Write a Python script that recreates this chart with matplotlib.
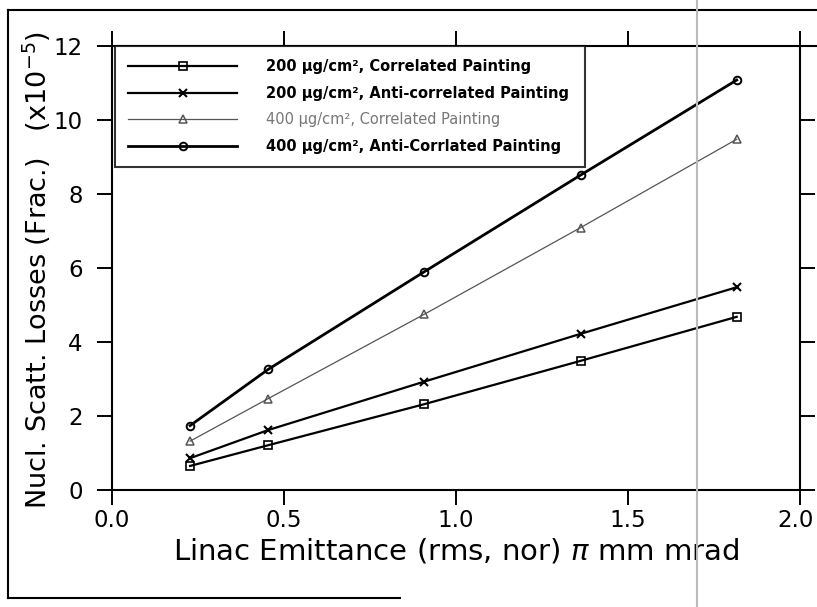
import matplotlib
matplotlib.use("Agg")
import matplotlib.pyplot as plt
import matplotlib.transforms as mtransforms
from matplotlib.lines import Line2D

# ---- data ----
emittance = [0.227, 0.454, 0.908, 1.362, 1.816]
corr_200 = [0.65, 1.21, 2.32, 3.49, 4.68]
anti_200 = [0.86, 1.62, 2.93, 4.22, 5.48]
corr_400 = [1.32, 2.47, 4.75, 7.09, 9.48]
anti_400 = [1.74, 3.26, 5.90, 8.51, 11.08]

labels = [
    "200 μg/cm², Correlated Painting",
    "200 μg/cm², Anti-correlated Painting",
    "400 μg/cm², Correlated Painting",
    "400 μg/cm², Anti-Corrlated Painting",
]
xticks = [0.0, 0.5, 1.0, 1.5, 2.0]
xticklabels = ["0.0", "0.5", "1.0", "1.5", "2.0"]
yticks = [0, 2, 4, 6, 8, 10, 12]
yticklabels = ["0", "2", "4", "6", "8", "10", "12"]

plt.rcParams['font.family'] = ['DejaVu Sans']

W, H = 817, 607
fig = plt.figure(figsize=(W / 100, H / 100), dpi=100)
ax = fig.add_axes([112 / W, 1 - 490 / H, (800 - 112) / W, (490 - 46) / H])

ax.plot(emittance, corr_200, color='black', lw=1.6, marker='s', ms=5.5,
        mfc='none', mec='black', mew=1.2, label=labels[0])
ax.plot(emittance, anti_200, color='black', lw=1.6, marker='x', ms=6,
        mec='black', mew=1.5, label=labels[1])
ax.plot(emittance, corr_400, color='#555555', lw=0.9, marker='^', ms=5.5,
        mfc='none', mec='#555555', mew=1.1, label=labels[2])
ax.plot(emittance, anti_400, color='black', lw=2.0, marker='o', ms=5.5,
        mfc='none', mec='black', mew=1.4, label=labels[3])

ax.set_xlim(0, 2.0)
ax.set_ylim(0, 12)
ax.set_xticks(xticks)
ax.set_xticklabels(xticklabels)
ax.set_yticks(yticks)
ax.set_yticklabels(yticklabels)

for s in ax.spines.values():
    s.set_linewidth(1.5)

ax.tick_params(axis='both', direction='out', length=11, width=1.4,
               labelsize=16.5, top=True, right=True, labeltop=False, labelright=False)
ax.tick_params(axis='x', pad=3)
ax.tick_params(axis='y', pad=10)

# keep the last x tick label inside the figure edge
last = ax.get_xticklabels()[-1]
last.set_transform(last.get_transform() +
                   mtransforms.ScaledTranslation(-4 / 100, 0, fig.dpi_scale_trans))

ax.set_xlabel("Linac Emittance (rms, nor) $\\pi$ mm mrad", fontsize=21)
ax.xaxis.set_label_coords(0.5, -0.104)
ax.set_ylabel("Nucl. Scatt. Losses (Frac.)   (x10$^{-5}$)", fontsize=19.5,
              va='center')
ax.yaxis.set_label_coords(-0.109, 0.495)

leg = ax.legend(loc='upper left', bbox_to_anchor=(0.004, 0.733, 0.683, 0.267),
                mode='expand', frameon=True, fancybox=False,
                edgecolor='black', handlelength=7.5, handletextpad=2.0,
                labelspacing=0.8, borderpad=0.9, borderaxespad=0.0,
                prop={'weight': 'bold', 'size': 10.5})
leg.get_frame().set_linewidth(1.5)
for i, t in enumerate(leg.get_texts()):
    if i == 2:
        t.set_color('#777777')
        t.set_fontweight('normal')

# outer frame and extension lines (figure decoration)
fig.add_artist(Line2D([8 / W, 8 / W], [1 - 10 / H, 1 - 598 / H],
                      transform=fig.transFigure, color='black', lw=1.5))
fig.add_artist(Line2D([8 / W, 1.0], [1 - 10 / H, 1 - 10 / H],
                      transform=fig.transFigure, color='black', lw=1.5))
fig.add_artist(Line2D([8 / W, 400 / W], [1 - 598 / H, 1 - 598 / H],
                      transform=fig.transFigure, color='black', lw=1.5))
fig.add_artist(Line2D([800 / W, 1.0], [1 - 46 / H, 1 - 46 / H],
                      transform=fig.transFigure, color='black', lw=1.5))
# scanner streak
fig.add_artist(Line2D([697 / W, 697 / W], [0, 1],
                      transform=fig.transFigure, color='#bbbbbb', lw=1.5))

fig.savefig("out.png", dpi=100)
